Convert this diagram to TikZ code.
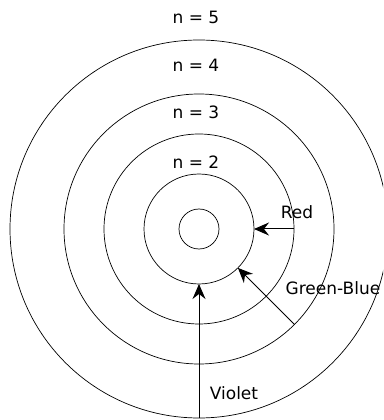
\documentclass[tikz,border=0pt]{standalone}
\usepackage{fontspec}
\setmainfont{DejaVu Sans}
\usetikzlibrary{arrows.meta}
\begin{document}
\begin{tikzpicture}[x=1pt,y=1pt]
		\tikzstyle{orbit} =[draw, circle, inner sep=0pt, outer sep=0pt, line width=0.7pt];
		\tikzstyle{level} =[font=\fontsize{17}{20}\selectfont];
		\tikzstyle{photon} =[-{Stealth[length=15pt,width=13pt,inset=5pt]}, line width=1pt];
		\useasboundingbox (-199,-191) rectangle (184,229);
		\clip (-199,-191) rectangle (184,229);
		
		\node[orbit, minimum size=40pt] (n1) at (0,0) {};
		\node[orbit, minimum size=110pt] (n2) at (0,0) {};
		\node[orbit, minimum size=190pt] (n3) at (0,0) {};
		\node[orbit, minimum size=270pt] (n4) at (0,0) {};
		\node[orbit, minimum size=378pt] (n5) at (0,0) {};
		
		\node[level] (l5) at (-3,212) {n = 5};
		\node[level] (l4) at (-3,164) {n = 4};
		\node[level] (l3) at (-3,117) {n = 3};
		\node[level] (l2) at (-3,67) {n = 2};
		
		\node[level] (red) at (98,17) {Red};
		\node[level] (greenblue) at (134,-59) {Green-Blue};
		\node[level] (violet) at (35,-164) {Violet};
		
		\draw[photon] (n3.east) -- (n2.east);
		\draw[photon] (n4.-45) -- (n2.-45);
		\draw[photon] (n5.south) -- (n2.south);
	\end{tikzpicture}
\end{document}
